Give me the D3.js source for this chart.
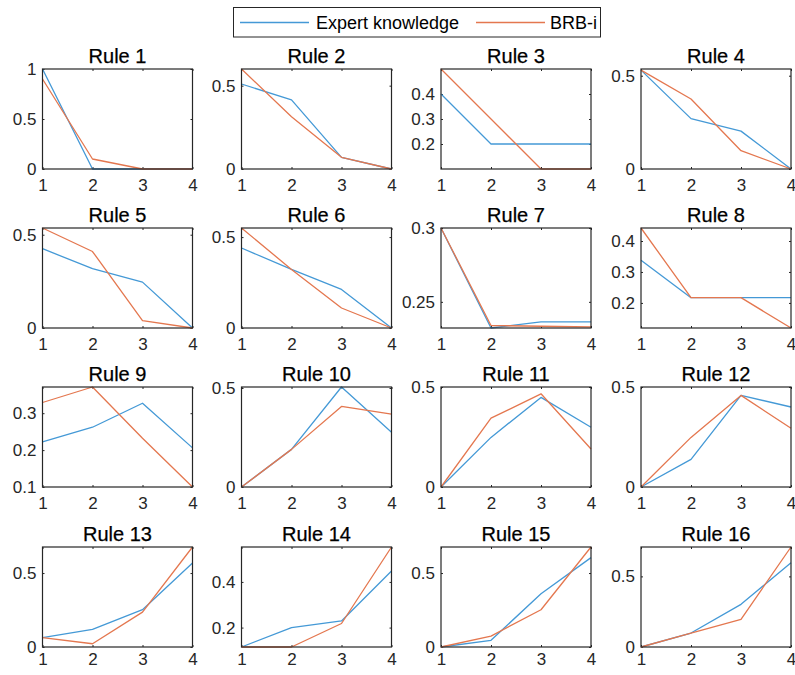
<!DOCTYPE html>
<html>
<head>
<meta charset="utf-8">
<script src="https://cdn.jsdelivr.net/npm/d3@7"></script>
<style>
  body { margin: 0; background: #fff; }
  text { font-family: Arial, "Liberation Sans", sans-serif; fill: #262626; }
</style>
</head>
<body>
<svg id="chart"></svg>
<script>
// Chart data
var xValues = [1, 2, 3, 4];
var titles = ["Rule 1", "Rule 2", "Rule 3", "Rule 4", "Rule 5", "Rule 6", "Rule 7", "Rule 8",
  "Rule 9", "Rule 10", "Rule 11", "Rule 12", "Rule 13", "Rule 14", "Rule 15", "Rule 16"];
var seriesNames = ["Expert knowledge", "BRB-i"];

var expert = [
  [1, 0, 0, 0],
  [0.51, 0.415, 0.07, 0],
  [0.4, 0.2, 0.2, 0.2],
  [0.53, 0.27, 0.203, 0],
  [0.425, 0.318, 0.246, 0],
  [0.44, 0.322, 0.212, 0],
  [0.3, 0.2323, 0.2364, 0.2364],
  [0.338, 0.217, 0.217, 0.217],
  [0.222, 0.262, 0.327, 0.206],
  [0, 0.19, 0.505, 0.276],
  [0, 0.248, 0.448, 0.299],
  [0, 0.138, 0.458, 0.4],
  [0.063, 0.119, 0.252, 0.568],
  [0.115, 0.2, 0.229, 0.448],
  [0, 0.045, 0.36, 0.604],
  [0, 0.099, 0.302, 0.597]
];
var brbi = [
  [0.9, 0.1, 0, 0],
  [0.6, 0.314, 0.07, 0],
  [0.5, 0.3, 0.1, 0.1],
  [0.53, 0.375, 0.098, 0],
  [0.536, 0.41, 0.04, 0],
  [0.55, 0.322, 0.11, 0],
  [0.3, 0.234, 0.2335, 0.233],
  [0.442, 0.217, 0.217, 0.119],
  [0.329, 0.371, 0.232, 0.1],
  [0, 0.19, 0.407, 0.368],
  [0, 0.344, 0.466, 0.19],
  [0, 0.248, 0.458, 0.294],
  [0.063, 0.022, 0.236, 0.676],
  [0.115, 0.115, 0.218, 0.553],
  [0, 0.074, 0.252, 0.676],
  [0, 0.099, 0.196, 0.708]
];

// y limits and tick labels for each subplot
var yLimits = [[0, 1], [0, 0.6], [0.1, 0.5], [0, 0.536], [0, 0.536], [0, 0.55], [0.2323, 0.3], [0.119, 0.442],
  [0.1, 0.371], [0, 0.505], [0, 0.5], [0, 0.5], [0, 0.676], [0.115, 0.553], [0, 0.676], [0, 0.708]];
var yTicks = [[0, 0.5, 1], [0, 0.5], [0.2, 0.3, 0.4], [0, 0.5], [0, 0.5], [0, 0.5], [0.25, 0.3], [0.2, 0.3, 0.4],
  [0.1, 0.2, 0.3], [0, 0.5], [0, 0.5], [0, 0.5], [0, 0.5], [0.2, 0.4], [0, 0.5], [0, 0.5]];

// Layout
var svg_width = 795, svg_height = 675;
var colLeft = [42.5, 241.5, 441, 641];
var rowTop = [69, 228, 387, 547];
var xLabelPad = [10, 10, 10, 6];
var plotW = 150, plotH = 100;
var colors = ["#4499d6", "#e4774f"];

var svg = d3.select("#chart")
  .attr("width", svg_width)
  .attr("height", svg_height);

titles.forEach(function (title, i) {
  var col = i % 4, row = Math.floor(i / 4);
  var g = svg.append("g")
    .attr("transform", "translate(" + colLeft[col] + "," + rowTop[row] + ")");

  var x = d3.scaleLinear().domain([1, 4]).range([0, plotW]);
  var y = d3.scaleLinear().domain(yLimits[i]).range([plotH, 0]);

  // axes with inward ticks
  var xAxis = g.append("g")
    .attr("transform", "translate(0," + plotH + ")")
    .call(d3.axisBottom(x).tickValues(xValues).tickSizeInner(-2).tickSizeOuter(0)
      .tickPadding(xLabelPad[row]).tickFormat(d3.format("d")));
  var yAxis = g.append("g")
    .call(d3.axisLeft(y).tickValues(yTicks[i]).tickSizeInner(-2).tickSizeOuter(0).tickPadding(6)
      .tickFormat(function (d) { return String(d); }));
  g.append("g")
    .call(d3.axisTop(x).tickValues(xValues).tickSizeInner(-2).tickSizeOuter(0).tickFormat(""));
  g.append("g")
    .attr("transform", "translate(" + plotW + ",0)")
    .call(d3.axisRight(y).tickValues(yTicks[i]).tickSizeInner(-2).tickSizeOuter(0).tickFormat(""));

  g.selectAll(".domain").remove();
  g.selectAll(".tick line").attr("stroke", "#262626");
  xAxis.selectAll("text").style("font-size", "17px").style("fill", "#262626");
  yAxis.selectAll("text").style("font-size", "17px").style("fill", "#262626");

  var line = d3.line()
    .x(function (d, j) { return x(xValues[j]); })
    .y(function (d) { return y(d); });

  [expert[i], brbi[i]].forEach(function (vals, s) {
    g.append("path")
      .datum(vals)
      .attr("fill", "none")
      .attr("stroke", colors[s])
      .attr("stroke-width", 1.3)
      .attr("stroke-linejoin", "round")
      .attr("d", line);
  });

  // box
  g.append("rect")
    .attr("width", plotW)
    .attr("height", plotH)
    .attr("fill", "none")
    .attr("stroke", "#262626")
    .attr("stroke-width", 1.2);

  g.append("text")
    .attr("x", plotW / 2)
    .attr("y", -6.5)
    .attr("text-anchor", "middle")
    .style("font-size", "20px")
    .style("fill", "#000")
    .style("stroke", "#000")
    .style("stroke-width", 0.25)
    .text(title);
});

// Legend
var legend = svg.append("g");
legend.append("rect")
  .attr("x", 233.5).attr("y", 7.5)
  .attr("width", 367).attr("height", 29.5)
  .attr("fill", "#fff")
  .attr("stroke", "#262626")
  .attr("stroke-width", 1);
var legendPos = [{ lx: 240, tx: 316 }, { lx: 476, tx: 550 }];
seriesNames.forEach(function (name, s) {
  legend.append("line")
    .attr("x1", legendPos[s].lx).attr("x2", legendPos[s].lx + 69)
    .attr("y1", 22.5).attr("y2", 22.5)
    .attr("stroke", colors[s])
    .attr("stroke-width", 1.3);
  legend.append("text")
    .attr("x", legendPos[s].tx)
    .attr("y", 29)
    .style("font-size", "18px")
    .style("fill", "#000")
    .text(name);
});
</script>
</body>
</html>
